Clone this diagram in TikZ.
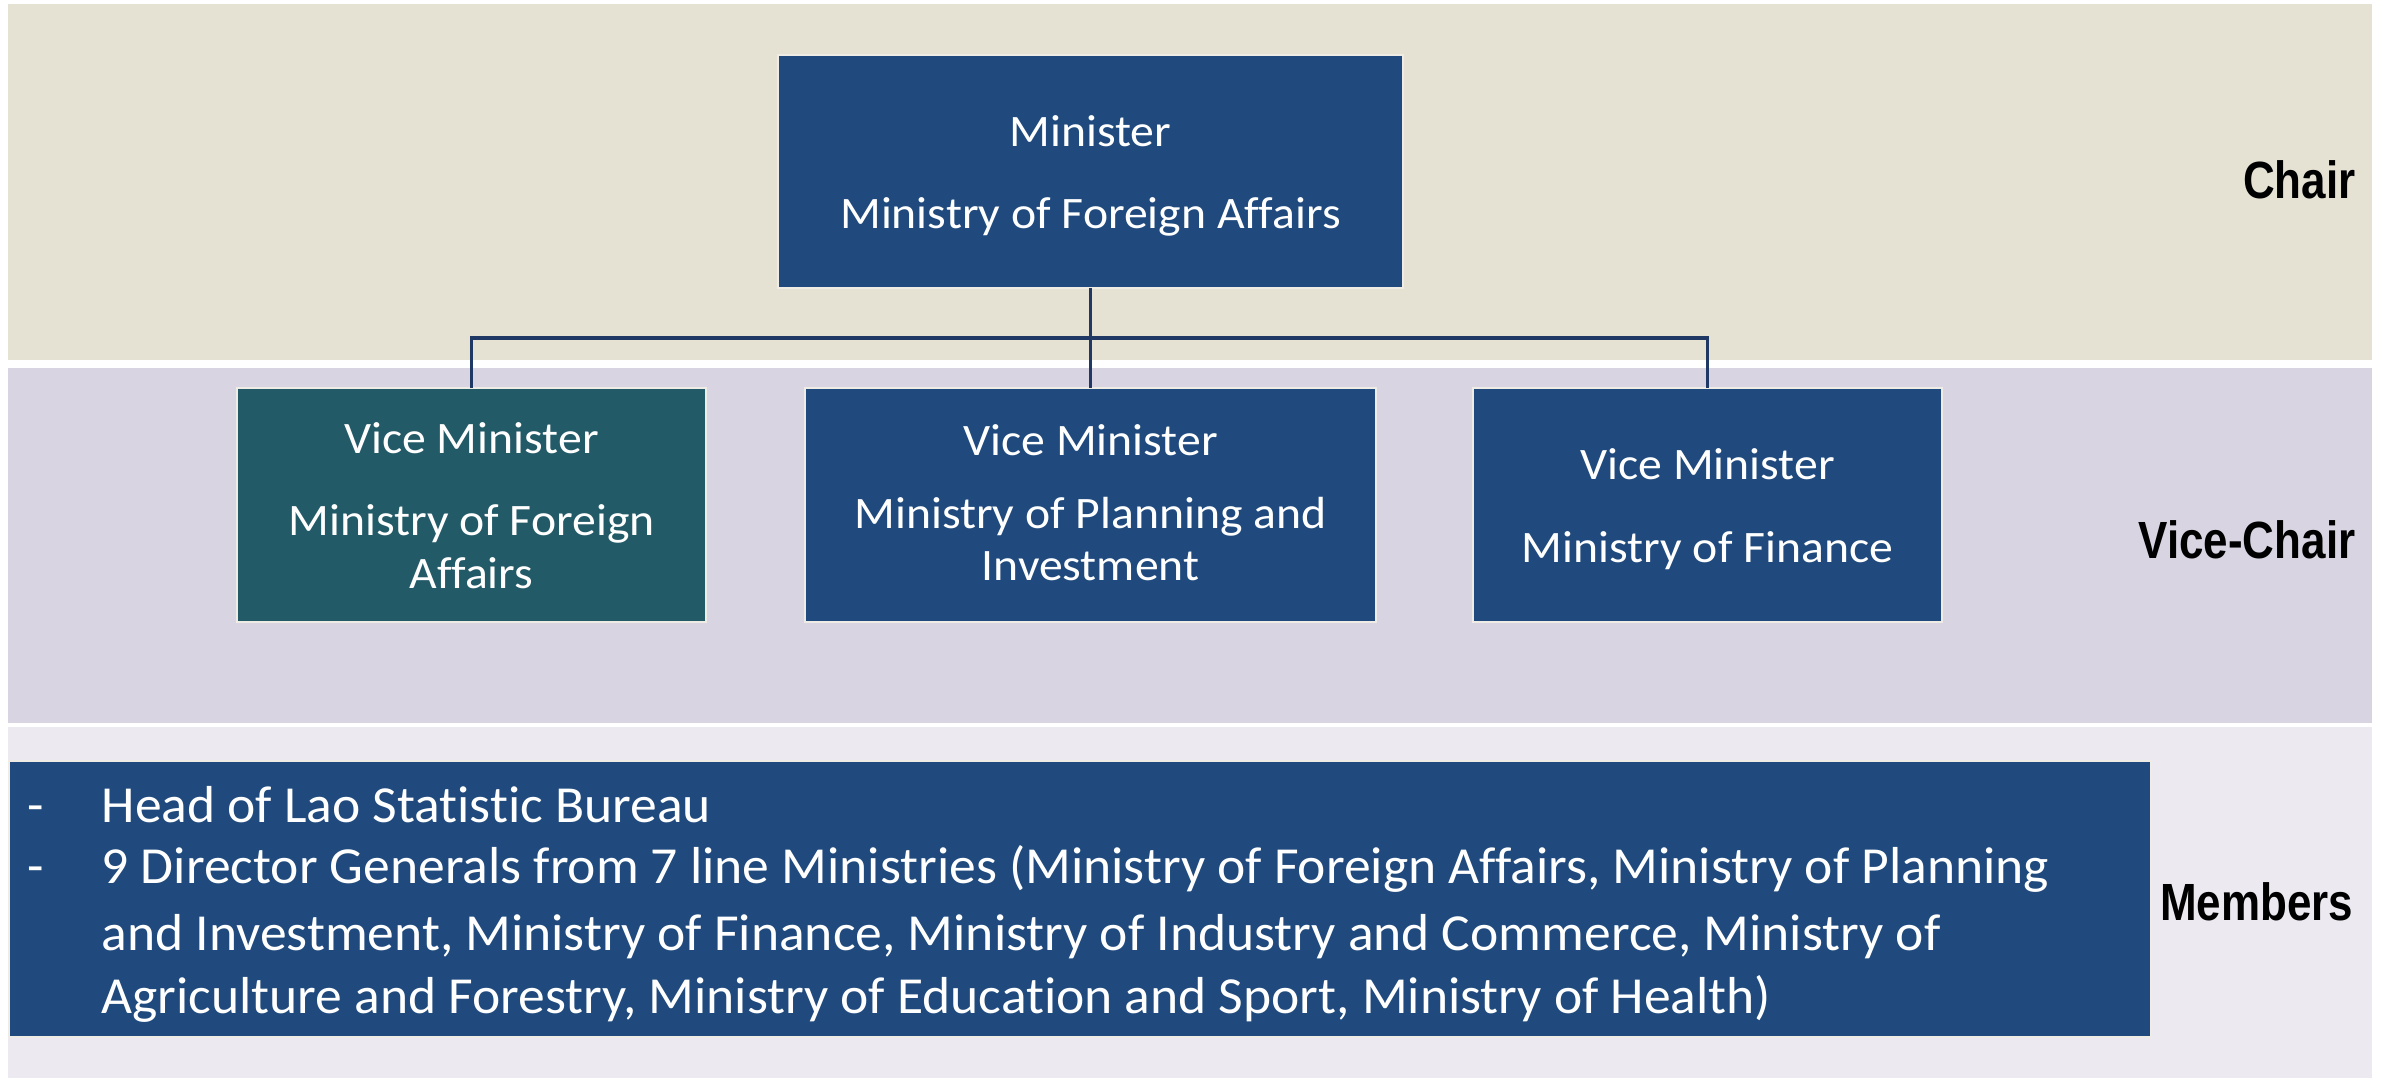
\documentclass[tikz,border=0pt]{standalone}
\usepackage{fontspec}
\setmainfont{Carlito}
\newfontfamily\boxfont{Carlito}[FakeStretch=1.06,Ligatures=NoCommon]
\newfontfamily\memfont{Carlito}[FakeStretch=1.03,Ligatures=NoCommon]
\newfontfamily\lblfont{Liberation Sans}[FakeStretch=0.84]
\definecolor{bandA}{HTML}{E5E2D3}
\definecolor{bandB}{HTML}{D8D4E2}
\definecolor{bandC}{HTML}{ECEAF0}
\definecolor{boxblue}{HTML}{204A7D}
\definecolor{boxteal}{HTML}{235A68}
\definecolor{boxedge}{HTML}{EEECE4}
\definecolor{linknavy}{HTML}{1F3864}
\begin{document}
\begin{tikzpicture}[x=0.3pt,y=-0.3pt,
  band/.style={fill=#1, draw=none},
  box/.style={fill=#1, draw=boxedge, line width=0.6pt, inner sep=0pt, outer sep=0pt},
  boxtxt/.style={inner sep=0pt, anchor=base, text=white, font=\boxfont\fontsize{13.5}{16}\selectfont},
  memtxt/.style={inner sep=0pt, anchor=base west, text=white, font=\memfont\fontsize{15.6}{19}\selectfont},
  lbl/.style={inner sep=0pt, anchor=base east, text=black, font=\lblfont\bfseries\fontsize{15.7}{18}\selectfont},
  link/.style={draw=linknavy, line width=1pt}]
\useasboundingbox (0,0) rectangle (2386,1078);
\fill[white] (0,0) rectangle (2386,1078);
% bands
\fill[band=bandA] (8,4) rectangle (2372,360);
\fill[band=bandB] (8,368) rectangle (2372,723);
\fill[band=bandC] (8,727) rectangle (2372,1078);
% boxes
\node[box=boxblue, minimum width=187.5pt, minimum height=69.9pt] (min) at (1090.5,171.5) {};
\node[box=boxteal, minimum width=140.7pt, minimum height=70.2pt] (vm1) at (471.5,505) {};
\node[box=boxblue, minimum width=171.3pt, minimum height=70.2pt] (vm2) at (1090.5,505) {};
\node[box=boxblue, minimum width=140.7pt, minimum height=70.2pt] (vm3) at (1707.5,505) {};
\node[box=boxblue, minimum width=642.6pt, minimum height=82.8pt] (mem) at (1080,899) {};
% connectors
\coordinate (bus) at (1090.5,338);
\draw[link] (min.south) -- (vm2.north);
\draw[link] (vm1.north) |- (bus) -| (vm3.north);
% box texts
\node[boxtxt] (minA) at (1090.5,146) {Minister};
\node[boxtxt] (minB) at (1090.5,228) {Ministry of Foreign Affairs};
\node[boxtxt] (vm1A) at (471.5,453) {Vice Minister};
\node[boxtxt] (vm1B) at (471.5,535) {Ministry of Foreign};
\node[boxtxt] (vm1C) at (471.5,588) {Affairs};
\node[boxtxt] (vm2A) at (1090.5,455) {Vice Minister};
\node[boxtxt] (vm2B) at (1090.5,528) {Ministry of Planning and};
\node[boxtxt] (vm2C) at (1090.5,580) {Investment};
\node[boxtxt] (vm3A) at (1707.5,479) {Vice Minister};
\node[boxtxt] (vm3B) at (1707.5,562) {Ministry of Finance};
% members text
\node[memtxt, anchor=base] (d1) at (36,822) {-};
\node[memtxt, anchor=base] (d2) at (36,883) {-};
\node[memtxt] (m1) at (101,822) {Head of Lao Statistic Bureau};
\node[memtxt] (m2) at (101,883) {9 Director Generals from 7 line Ministries (Ministry of Foreign Affairs, Ministry of Planning};
\node[memtxt] (m3) at (101,950) {and Investment, Ministry of Finance, Ministry of Industry and Commerce, Ministry of};
\node[memtxt] (m4) at (101,1013) {Agriculture and Forestry, Ministry of Education and Sport, Ministry of Health)};
% side labels
\node[lbl] (chair) at (2356,198) {Chair};
\node[lbl] (vchair) at (2356,558) {Vice-Chair};
\node[lbl] (members) at (2354,920) {Members};
\end{tikzpicture}
\end{document}
